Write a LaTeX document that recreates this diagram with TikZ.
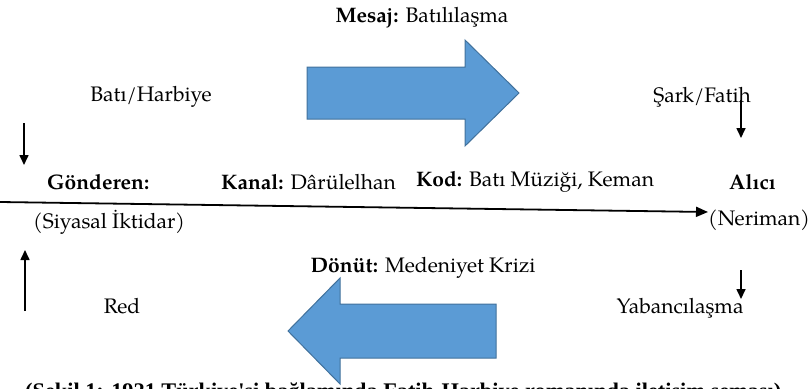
\documentclass[tikz,border=0pt]{standalone}
\usepackage{fontspec}
\setmainfont{TeX Gyre Pagella}
\newfontfamily\capfont{Liberation Serif}
\usetikzlibrary{arrows.meta}
\definecolor{blockfill}{HTML}{5B9BD5}
\definecolor{blockline}{HTML}{41719C}
\tikzset{
  lbl/.style={inner sep=0pt, font=\fontsize{21}{24}\selectfont},
  caplbl/.style={inner sep=0pt, font=\capfont\bfseries\fontsize{22.3}{24}\selectfont},
  vline/.style={line width=1.6pt, -{Triangle[length=10pt,width=9pt]}},
  mainline/.style={line width=1.8pt, -{Triangle[length=12pt,width=10pt]}},
  blockarrow/.style={fill=blockfill, draw=blockline, line width=1pt, line join=miter}
}
\begin{document}
\begin{tikzpicture}[x=1pt,y=-1pt]
\useasboundingbox (0,0) rectangle (810,388);
\clip (0,0) rectangle (810,388);
% block arrows
\draw[blockarrow] (307,67) -- (465,67) -- (465,40) -- (519,93) -- (465,146) -- (465,119) -- (307,119) -- cycle;
\draw[blockarrow] (496,304) -- (340,304) -- (340,278) -- (288,331) -- (340,384) -- (340,358) -- (496,358) -- cycle;
% texts
\node[lbl] (mesaj) at (422,18) {\textbf{Mesaj:} Batılılaşma};
\node[lbl] (bati) at (151,97) {Batı/Harbiye};
\node[lbl] (sark) at (702,97) {Şark/Fatih};
\node[lbl, anchor=west] (gond) at (47,182) {\textbf{Gönderen:}};
\node[lbl, anchor=west] (kanal) at (221,182) {\textbf{Kanal:} Dârülelhan};
\node[lbl, anchor=west] (kod) at (416,182) {\textbf{Kod:} Batı Müziği, Keman};
\node[lbl, anchor=west] (alici) at (729,182) {\textbf{Alıcı}};
\node[lbl, anchor=west] (siyasal) at (33,222) {(Siyasal İktidar)};
\node[lbl, anchor=west] (neriman) at (708,220) {(Neriman)};
\node[lbl] (donut) at (423,268) {\textbf{Dönüt:} Medeniyet Krizi};
\node[lbl] (red) at (122,306) {Red};
\node[lbl] (yab) at (680,308) {Yabancılaşma};
\node[caplbl, anchor=base west] (caption) at (25,398) {(Şekil 1: 1921 Türkiye'si bağlamında Fatih-Harbiye romanında iletişim şeması)};
% connector end points
\coordinate (ls) at (0,202);
\coordinate (lt) at (708,212);
\coordinate (d1s) at (24,123);
\coordinate (d1t) at (24,165);
\coordinate (d2s) at (741,100);
\coordinate (d2t) at (741,138);
\coordinate (u1s) at (25,311);
\coordinate (u1t) at (25,250);
\coordinate (d3s) at (741,270);
\coordinate (d3t) at (741,299);
\draw[mainline] (ls) -- (lt);
\draw[vline] (d1s) -- (d1t);
\draw[vline] (d2s) -- (d2t);
\draw[vline] (u1s) -- (u1t);
\draw[vline] (d3s) -- (d3t);
\end{tikzpicture}
\end{document}
